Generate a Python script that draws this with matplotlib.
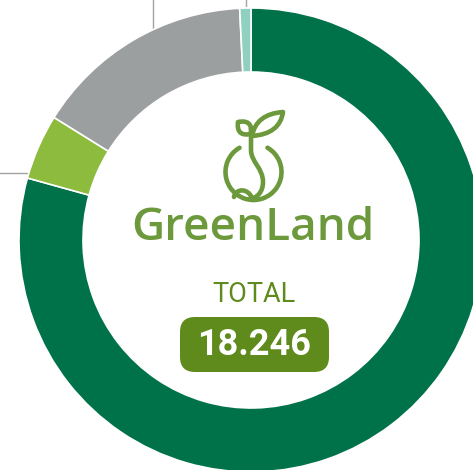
"""Donut chart with GreenLand logo and total badge."""

import matplotlib.pyplot as plt
from matplotlib.patches import Arc, FancyBboxPatch, PathPatch
from matplotlib.path import Path

W, H = 473, 470

labels = ["Dark green", "Light green", "Grey", "Teal"]
values = [14470, 831, 2803, 142]
colors = ["#00724A", "#8DBB3E", "#9C9FA0", "#8FD0C1"]
total_label = "18.246"

LOGO = "#6B993B"
BADGE = "#5F8A1C"
LEADER = "#A3A3A3"


def Y(y):
    # image rows to data y (origin at bottom)
    return H - y


fig = plt.figure(figsize=(W / 100, H / 100), dpi=100)
ax = fig.add_axes([0, 0, 1, 1])

ax.pie(
    values,
    colors=colors,
    startangle=90,
    counterclock=False,
    center=(251, Y(240)),
    radius=232,
    wedgeprops=dict(width=64, edgecolor="white", linewidth=1.2),
)
ax.set_xlim(0, W)
ax.set_ylim(0, H)
ax.set_aspect("equal", adjustable="box")
ax.axis("off")

# leader lines running out of the frame
for xs, ys in [([152.5, 152.5], [0, 28]), ([245.5, 245.5], [0, 6]), ([0, 28], [172.5, 172.5])]:
    ax.plot(xs, [Y(v) for v in ys], color=LEADER, lw=1.0, zorder=0)

# logo icon
lw = 3.3
ax.add_patch(Arc((253.5, Y(172)), 56, 56, theta1=120, theta2=60,
                 color=LOGO, lw=lw, capstyle="round"))


def stroke(verts, codes):
    p = Path([(x, Y(y)) for x, y in verts], codes)
    ax.add_patch(PathPatch(p, fill=False, edgecolor=LOGO, lw=lw,
                           capstyle="round", joinstyle="round"))


M, L, C3, C4 = Path.MOVETO, Path.LINETO, Path.CURVE3, Path.CURVE4
stroke([(251, 128), (251, 150), (251, 162), (263, 168), (263, 182),
        (263, 192), (257, 198), (250, 199)],
       [M, L, C4, C4, C4, C4, C4, C4])
stroke([(234, 197), (236, 188), (248, 188), (252, 198)], [M, C4, C4, C4])
stroke([(251, 134), (236, 137), (238, 122), (253, 119), (251, 134)],
       [M, C3, C3, C3, C3])
stroke([(252, 136), (256, 114), (283, 112), (280, 134), (252, 136)],
       [M, C3, C3, C3, C3])

ax.text(252.5, Y(229), "GreenLand", ha="center", va="center",
        fontsize=33, color=LOGO, family="Open Sans", fontweight="semibold")

ax.text(254, Y(295), "TOTAL", ha="center", va="center",
        fontsize=19.5, color=BADGE, family="Roboto")

ax.add_patch(FancyBboxPatch((195, Y(372) + 15), 119, 25,
                            boxstyle="round,pad=15", facecolor=BADGE,
                            edgecolor="none"))
ax.text(254.5, Y(345), total_label, ha="center", va="center",
        fontsize=26, color="white", family="Roboto", fontweight="bold")

fig.savefig("out.png", dpi=100)
